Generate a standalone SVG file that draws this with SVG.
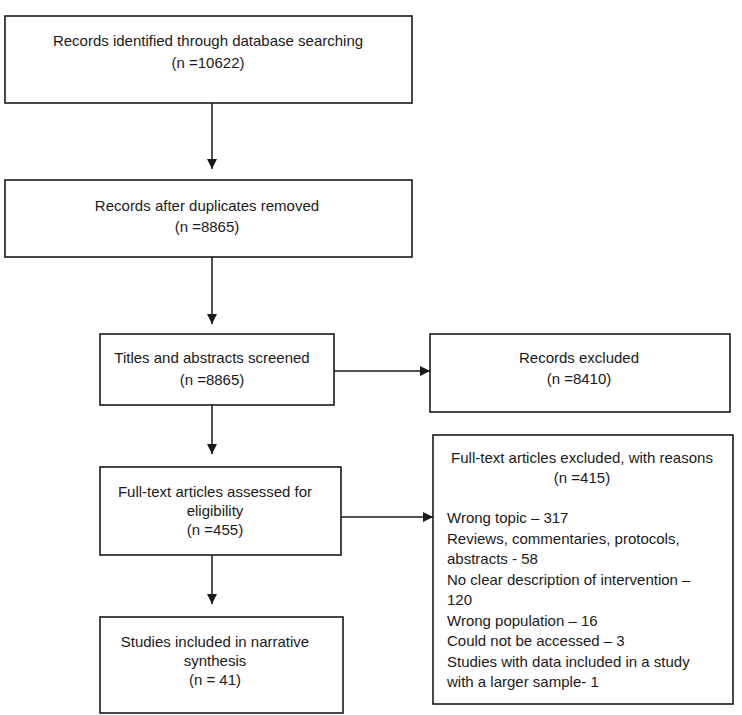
<svg xmlns="http://www.w3.org/2000/svg" width="742" height="715" viewBox="0 0 742 715">
<defs>
<style>
.box{fill:#fff;stroke:#1a1a1a;stroke-width:1.6}
.t{font-family:"Liberation Sans",Arial,sans-serif;font-size:15px;fill:#1a1a1a}
.c{text-anchor:middle}
.ln{stroke:#1a1a1a;stroke-width:1.5;fill:none}
</style>
<marker id="ah" viewBox="0 0 10 10" refX="10" refY="5" markerWidth="10" markerHeight="10" markerUnits="userSpaceOnUse" orient="auto">
<path d="M0,0 L10,5 L0,10 z" fill="#1a1a1a"/>
</marker>
</defs>
<rect width="742" height="715" fill="#fff"/>
<g id="connectors">
<line class="ln" x1="212" y1="103" x2="212" y2="169" marker-end="url(#ah)"/>
<line class="ln" x1="212" y1="257" x2="212" y2="324" marker-end="url(#ah)"/>
<line class="ln" x1="334" y1="371" x2="430" y2="371" marker-end="url(#ah)"/>
<line class="ln" x1="212" y1="405" x2="212" y2="454" marker-end="url(#ah)"/>
<line class="ln" x1="341" y1="517" x2="433" y2="517" marker-end="url(#ah)"/>
<line class="ln" x1="212" y1="555" x2="212" y2="604" marker-end="url(#ah)"/>
</g>
<g id="n1">
<rect class="box" x="5" y="16" width="407" height="87"/>
<text class="t c" x="208" y="46">Records identified through database searching</text>
<text class="t c" x="208" y="68">(n =10622)</text>
</g>
<g id="n2">
<rect class="box" x="5" y="180" width="407" height="77"/>
<text class="t c" x="207" y="211">Records after duplicates removed</text>
<text class="t c" x="207" y="232">(n =8865)</text>
</g>
<g id="n3">
<rect class="box" x="100" y="334" width="234" height="71"/>
<text class="t c" x="212" y="363">Titles and abstracts screened</text>
<text class="t c" x="212" y="385">(n =8865)</text>
</g>
<g id="n4">
<rect class="box" x="430" y="334" width="300" height="78"/>
<text class="t c" x="579" y="363">Records excluded</text>
<text class="t c" x="579" y="384">(n =8410)</text>
</g>
<g id="n5">
<rect class="box" x="100" y="467" width="241" height="88"/>
<text class="t c" x="215" y="497">Full-text articles assessed for</text>
<text class="t c" x="215" y="516">eligibility</text>
<text class="t c" x="215" y="535">(n =455)</text>
</g>
<g id="n6">
<rect class="box" x="433" y="435" width="300" height="269"/>
<text class="t c" x="582" y="463">Full-text articles excluded, with reasons</text>
<text class="t c" x="582" y="483">(n =415)</text>
<text class="t" x="447" y="523">Wrong topic – 317</text>
<text class="t" x="447" y="543.5">Reviews, commentaries, protocols,</text>
<text class="t" x="447" y="564">abstracts - 58</text>
<text class="t" x="447" y="584.5">No clear description of intervention –</text>
<text class="t" x="447" y="605">120</text>
<text class="t" x="447" y="625.5">Wrong population – 16</text>
<text class="t" x="447" y="646">Could not be accessed – 3</text>
<text class="t" x="447" y="666.5">Studies with data included in a study</text>
<text class="t" x="447" y="687">with a larger sample- 1</text>
</g>
<g id="n7">
<rect class="box" x="100" y="617" width="243" height="96"/>
<text class="t c" x="215" y="647">Studies included in narrative</text>
<text class="t c" x="215" y="666">synthesis</text>
<text class="t c" x="215" y="685">(n = 41)</text>
</g>
</svg>
